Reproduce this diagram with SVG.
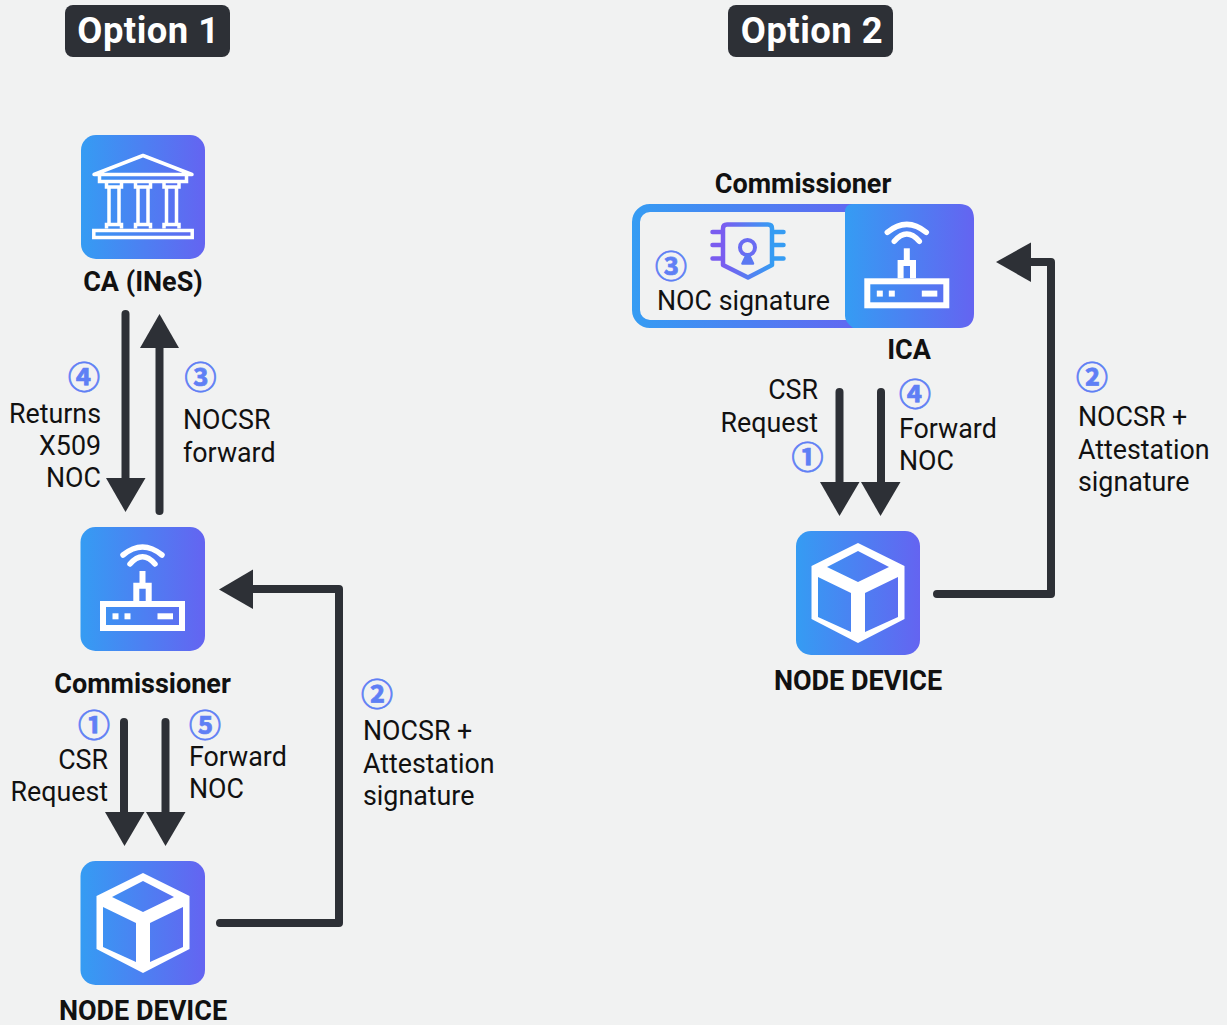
<svg xmlns="http://www.w3.org/2000/svg" width="1227" height="1025" viewBox="0 0 1227 1025">
<defs>
<linearGradient id="g" x1="0" y1="0" x2="1" y2="0"><stop offset="0" stop-color="#359cf3"/><stop offset="1" stop-color="#6464f1"/></linearGradient>
<linearGradient id="g2" gradientUnits="userSpaceOnUse" x1="632" y1="0" x2="870" y2="0"><stop offset="0" stop-color="#359cf3"/><stop offset="1" stop-color="#6464f1"/></linearGradient>
<linearGradient id="g3" x1="1" y1="0" x2="0" y2="0"><stop offset="0" stop-color="#359cf3"/><stop offset="1" stop-color="#7a5cf0"/></linearGradient>
<g id="router">
<rect x="-39.500" y="3" width="79" height="24" fill="none" stroke="#fff" stroke-width="6"/>
<rect x="-30" y="12.300" width="6" height="6" fill="#fff"/>
<rect x="-18" y="12.300" width="6" height="6" fill="#fff"/>
<rect x="15" y="12.300" width="15.500" height="6" fill="#fff"/>
<path d="M-6.200 0V-15.300H6.200V0" fill="none" stroke="#fff" stroke-width="6"/>
<path d="M0-16V-30" stroke="#fff" stroke-width="6"/>
<path d="M-19.500-46Q0-62 19.500-46M-12.500-37Q0-51.600 12.500-37" fill="none" stroke="#fff" stroke-width="5.500" stroke-linecap="round"/>
</g>
<path id="cube" fill="#fff" fill-rule="evenodd" d="M0-50L46.500-27V26L0 50L-46.500 26V-27ZM0-42L-31-26L0-11L31-26ZM-40-16V24L-7 39V0ZM40-16L7 0V39L40 24Z"/>
</defs>
<style>
text{font-family:Roboto,"Liberation Sans",sans-serif;fill:#111}
.t{font-size:26.800px}
.b{font-size:27px;font-weight:700;text-anchor:middle}
.h{font-size:36.400px;font-weight:700;fill:#fff;text-anchor:middle;letter-spacing:.5px}
.e{text-anchor:end}
.n{font-family:"Noto Sans CJK JP","DejaVu Sans",sans-serif;font-size:32px;fill:#5f7ff5;stroke:#5f7ff5;stroke-width:.7;text-anchor:middle;font-weight:700}
.c{fill:none;stroke:#2d3036;stroke-width:8;stroke-linecap:round;stroke-linejoin:round}
.a{fill:#2d3036}
.w{fill:none;stroke:#fff;stroke-width:3.500}
</style>
<rect width="1227" height="1025" fill="#f1f2f2"/>
<g id="option1"><rect x="65" y="5" width="165" height="52" rx="8" fill="#2d3036"/><text class="h" x="148.500" y="43">Option 1</text></g>
<g id="option2"><rect x="728" y="5" width="165" height="52" rx="8" fill="#2d3036"/><text class="h" x="812" y="43">Option 2</text></g>
<g id="ca">
<rect x="81" y="135" width="124" height="124" rx="15" fill="url(#g)"/>
<path d="M94 174.500L143 155.500L192 174.500Z" fill="none" stroke="#fff" stroke-width="3.500" stroke-linejoin="round"/>
<path class="w" d="M99.500 174.500V181.500H186.500V174.500"/>
<g id="columns">
<path class="w" d="M106.500 182V187H121.500V182M109 187V224.500M119 187V224.500M106.500 228.500V224.500H121.500V228.500"/>
<path class="w" d="M135.500 182V187H150.500V182M138 187V224.500M148 187V224.500M135.500 228.500V224.500H150.500V228.500"/>
<path class="w" d="M164 182V187H179V182M166.500 187V224.500M176.500 187V224.500M164 228.500V224.500H179V228.500"/>
</g>
<rect x="93.800" y="230.500" width="98.400" height="7" class="w"/>
<text class="b" x="143" y="291.300">CA (INeS)</text>
</g>
<g id="commissioner1">
<rect x="80.500" y="527" width="124.500" height="124" rx="15" fill="url(#g)"/>
<use href="#router" x="142.500" y="601"/>
<text class="b" x="142.500" y="693.300">Commissioner</text>
</g>
<g id="node1">
<rect x="80.500" y="861" width="124.500" height="124" rx="15" fill="url(#g)"/>
<use href="#cube" x="143" y="923"/>
<text class="b" x="143" y="1020">NODE DEVICE</text>
</g>
<g id="commissioner2">
<text class="b" x="803" y="193.300">Commissioner</text>
<rect x="636" y="208" width="334" height="116" rx="14" fill="#f1f2f2" stroke="url(#g2)" stroke-width="8"/>
<path d="M845 212Q845 204 853 204H959Q974 204 974 219V313Q974 328 959 328H853Q845 322 845 316Z" fill="url(#g)"/>
<use href="#router" x="906.800" y="278.300"/>
<g id="chip" fill="none" stroke-linecap="round" stroke-linejoin="round" stroke-width="4.500">
<path d="M727 224.500H768Q772 224.500 772 228.500V265L748 277.500L723 265V228.500Q723 224.500 727 224.500Z" stroke="url(#g3)"/>
<path d="M712.500 232H722M712.500 245H722M712.500 258.500H722" stroke="#7a5cf0"/>
<path d="M774 232H783.500M774 245H783.500M774 258.500H783.500" stroke="#359cf3"/>
<circle cx="747.500" cy="247.500" r="7.500" stroke="#6a6cf2" stroke-width="4"/>
<path d="M746.500 255L742.500 263.500H753L749 255Z" fill="#5b78f2" stroke="#5b78f2" stroke-width="2.500"/>
</g>
<text class="n" x="671" y="277.500">③</text>
<text class="t" x="657" y="310.300">NOC signature</text>
<text class="b" x="909" y="359.300">ICA</text>
</g>
<g id="node2">
<rect x="796" y="531" width="124" height="124" rx="15" fill="url(#g)"/>
<use href="#cube" x="858" y="593"/>
<text class="b" x="858" y="690.300">NODE DEVICE</text>
</g>
<g id="connectors">
<path class="c" d="M125.500 314V480"/><path class="a" d="M106 478H145.500L125.500 512Z"/>
<path class="c" d="M159.500 511V345"/><path class="a" d="M140 348H179L159.500 314Z"/>
<path class="c" d="M124 722V812"/><path class="a" d="M105 812H144.500L124.500 846Z"/>
<path class="c" d="M165.500 722V812"/><path class="a" d="M146 812H185.500L165.500 846Z"/>
<path class="c" d="M220 923H339V589H250"/><path class="a" d="M253 569.500V609L219 589.500Z"/>
<path class="c" d="M937 594H1051V262H1030"/><path class="a" d="M1031 242.500V282L996 262Z"/>
<path class="c" d="M839.500 392V482"/><path class="a" d="M820 482H859.500L839.500 516Z"/>
<path class="c" d="M881 392V482"/><path class="a" d="M861 482H900.500L880.500 516Z"/>
</g>
<g id="labels">
<text class="n" x="84" y="388.500">④</text>
<text class="t e" x="101" y="423.300">Returns</text>
<text class="t e" x="101" y="455.300">X509</text>
<text class="t e" x="101" y="487.300">NOC</text>
<text class="n" x="200.500" y="388.500">③</text>
<text class="t" x="183" y="429.300">NOCSR</text>
<text class="t" x="183" y="462.300">forward</text>
<text class="n" x="94" y="736.500">①</text>
<text class="t e" x="108" y="769.300">CSR</text>
<text class="t e" x="108" y="801.300">Request</text>
<text class="n" x="205" y="736.500">⑤</text>
<text class="t" x="189" y="766.300">Forward</text>
<text class="t" x="189" y="798.300">NOC</text>
<text class="n" x="377" y="705.500">②</text>
<text class="t" x="363" y="740.300">NOCSR +</text>
<text class="t" x="363" y="773.300">Attestation</text>
<text class="t" x="363" y="805.300">signature</text>
<text class="t e" x="818" y="399.300">CSR</text>
<text class="t e" x="818" y="432.300">Request</text>
<text class="n" x="807.500" y="468.500">①</text>
<text class="n" x="915" y="405.500">④</text>
<text class="t" x="899" y="438.300">Forward</text>
<text class="t" x="899" y="470.300">NOC</text>
<text class="n" x="1092" y="388.500">②</text>
<text class="t" x="1078" y="426.300">NOCSR +</text>
<text class="t" x="1078" y="459.300">Attestation</text>
<text class="t" x="1078" y="491.300">signature</text>
</g>
</svg>
